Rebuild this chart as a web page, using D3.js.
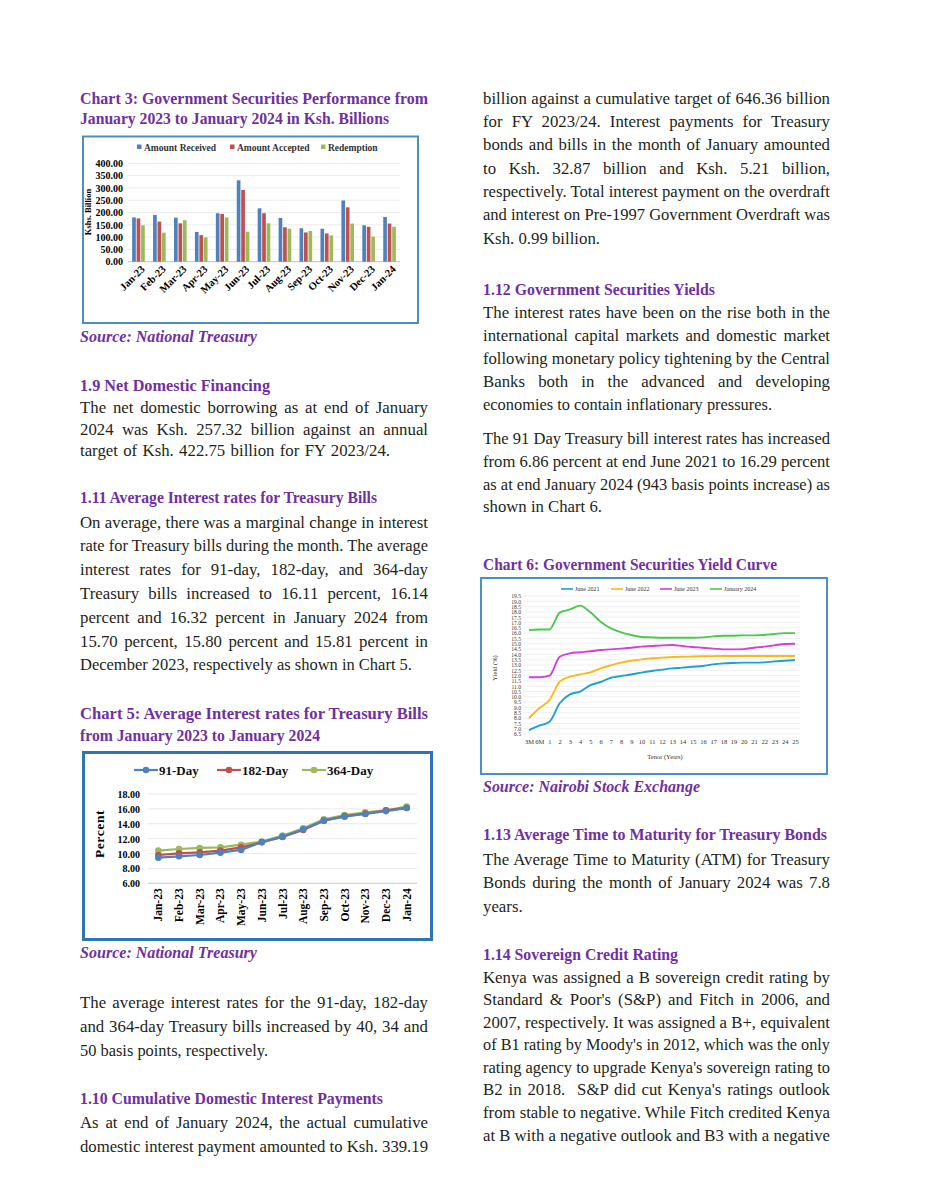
<!DOCTYPE html>
<html><head><meta charset="utf-8">
<script src="https://cdn.jsdelivr.net/npm/d3@7"></script>
<style>body{margin:0;background:#fff;}svg{display:block;}</style>
</head><body>
<svg id="page" width="929" height="1200"></svg>
<script>
// ---------------- DATA ----------------
const months = ["Jan-23","Feb-23","Mar-23","Apr-23","May-23","Jun-23","Jul-23","Aug-23","Sep-23","Oct-23","Nov-23","Dec-23","Jan-24"];
// Chart 3 (Ksh. Billion)
const amountReceived = [180,190,179,121,197,331,217,178,136,134,249,148,182];
const amountAccepted = [176,163,156,108,194,292,197,140,119,115,221,142,155];
const redemption     = [148,118,169, 99,180,122,156,134,125,107,155,102,142];
const chart3Series = ["Amount Received","Amount Accepted","Redemption"];
const chart3Ticks = [0,50,100,150,200,250,300,350,400];
// Chart 5 (percent)
const rate91  = [9.45,9.63,9.80,10.12,10.48,11.55,12.27,13.25,14.42,14.95,15.31,15.70,16.11];
const rate182 = [9.80,10.03,10.16,10.39,10.83,11.50,12.22,13.16,14.42,15.04,15.36,15.80,16.14];
const rate364 = [10.39,10.61,10.75,10.83,11.19,11.60,12.40,13.39,14.60,15.18,15.54,15.81,16.32];
const chart5Series = ["91-Day","182-Day","364-Day"];
const chart5Ticks = [6,8,10,12,14,16,18];
// Chart 6 (yield %, by tenor)
const tenors = ["3M","6M","1","2","3","4","5","6","7","8","9","10","11","12","13","14","15","16","17","18","19","20","21","22","23","24","25"];
const june2021 = [6.86,7.28,7.66,9.40,10.24,10.50,11.10,11.40,11.80,11.96,12.10,12.28,12.43,12.56,12.68,12.75,12.84,12.90,13.06,13.15,13.19,13.22,13.22,13.25,13.34,13.40,13.47];
const june2022 = [7.98,8.92,9.70,11.43,11.90,12.12,12.30,12.68,12.97,13.22,13.40,13.53,13.63,13.69,13.75,13.78,13.80,13.82,13.84,13.85,13.85,13.85,13.85,13.85,13.85,13.85,13.85];
const june2023 = [11.84,11.84,12.00,13.78,14.10,14.20,14.29,14.41,14.47,14.54,14.63,14.73,14.79,14.85,14.88,14.79,14.70,14.63,14.54,14.47,14.47,14.50,14.63,14.73,14.85,14.98,15.00];
const jan2024  = [16.29,16.35,16.35,17.93,18.24,18.59,17.96,17.08,16.45,16.08,15.83,15.64,15.60,15.57,15.57,15.57,15.57,15.60,15.70,15.76,15.76,15.79,15.79,15.83,15.92,16.00,16.00];
const chart6Series = ["June 2021","June 2022","June 2023","January 2024"];
const chart6Ticks = d3.range(6.5, 19.51, 0.5);

// ---------------- PAGE ----------------
const svg = d3.select("#page");
svg.append("rect").attr("width",929).attr("height",1200).attr("fill","#fff");
const PURPLE = "#7030a0";
const SERIF = "'Liberation Serif','Times New Roman',serif";

function addLine(x, it) {
  const t = svg.append("text").attr("x", x).attr("y", it.y).text(it.t)
    .attr("font-family", SERIF).attr("xml:space","preserve");
  if (it.k === "h" || it.k === "s") {
    t.attr("fill", PURPLE).attr("font-size", 16.5)
     .attr("font-weight", "bold").attr("font-style", it.k === "s" ? "italic" : null);
    if (it.w) t.attr("textLength", it.w).attr("lengthAdjust", "spacingAndGlyphs");
  } else {
    t.attr("fill", "#231f20").attr("font-size", 16.8);
    const nat = t.node().getComputedTextLength();
    const n = (it.t.match(/ /g) || []).length;
    if (it.w) {
      if (nat > it.w || n === 0) t.attr("textLength", it.w).attr("lengthAdjust", "spacingAndGlyphs");
      else t.attr("word-spacing", (it.w - nat) / n);
    }
  }
}
const leftLines = [
  {t:"Chart 3: Government Securities Performance from", y:104, w:348, k:"h"},
  {t:"January 2023 to January 2024 in Ksh. Billions", y:123.5, w:309, k:"h"},
  {t:"Source: National Treasury", y:341.5, w:177, k:"s"},
  {t:"1.9 Net Domestic Financing", y:391, w:190, k:"h"},
  {t:"The net domestic borrowing as at end of January", y:413, w:348},
  {t:"2024 was Ksh. 257.32 billion against an annual", y:435, w:348},
  {t:"target of Ksh. 422.75 billion for FY 2023/24.", y:455.5, w:310},
  {t:"1.11 Average Interest rates for Treasury Bills", y:502.5, w:297, k:"h"},
  {t:"On average, there was a marginal change in interest", y:527.5, w:348},
  {t:"rate for Treasury bills during the month. The average", y:551, w:348},
  {t:"interest rates for 91-day, 182-day, and 364-day", y:575, w:348},
  {t:"Treasury bills increased to 16.11 percent, 16.14", y:599, w:348},
  {t:"percent and 16.32 percent in January 2024 from", y:622.5, w:348},
  {t:"15.70 percent, 15.80 percent and 15.81 percent in", y:646.5, w:348},
  {t:"December 2023, respectively as shown in Chart 5.", y:670, w:332},
  {t:"Chart 5: Average Interest rates for Treasury Bills", y:719, w:348, k:"h"},
  {t:"from January 2023 to January 2024", y:741, w:240, k:"h"},
  {t:"Source: National Treasury", y:958, w:177, k:"s"},
  {t:"The average interest rates for the 91-day, 182-day", y:1008, w:348},
  {t:"and 364-day Treasury bills increased by 40, 34 and", y:1032, w:348},
  {t:"50 basis points, respectively.", y:1056, w:188},
  {t:"1.10 Cumulative Domestic Interest Payments", y:1104, w:303, k:"h"},
  {t:"As at end of January 2024, the actual cumulative", y:1128, w:348},
  {t:"domestic interest payment amounted to Ksh. 339.19", y:1152, w:348}
];
const rightLines = [
  {t:"billion against a cumulative target of 646.36 billion", y:104, w:347},
  {t:"for FY 2023/24. Interest payments for Treasury", y:126.5, w:347},
  {t:"bonds and bills in the month of January amounted", y:150, w:347},
  {t:"to Ksh. 32.87 billion and Ksh. 5.21 billion,", y:173.5, w:347},
  {t:"respectively. Total interest payment on the overdraft", y:197, w:347},
  {t:"and interest on Pre-1997 Government Overdraft was", y:220, w:347},
  {t:"Ksh. 0.99 billion.", y:243.5, w:117},
  {t:"1.12 Government Securities Yields", y:295, w:232, k:"h"},
  {t:"The interest rates have been on the rise both in the", y:317.5, w:347},
  {t:"international capital markets and domestic market", y:341, w:347},
  {t:"following monetary policy tightening by the Central", y:364, w:347},
  {t:"Banks both in the advanced and developing", y:387, w:347},
  {t:"economies to contain inflationary pressures.", y:409.5, w:289},
  {t:"The 91 Day Treasury bill interest rates has increased", y:443.5, w:347},
  {t:"from 6.86 percent at end June 2021 to 16.29 percent", y:467, w:347},
  {t:"as at end January 2024 (943 basis points increase) as", y:489.5, w:347},
  {t:"shown in Chart 6.", y:512, w:119},
  {t:"Chart 6: Government Securities Yield Curve", y:570, w:294, k:"h"},
  {t:"Source: Nairobi Stock Exchange", y:791.5, w:217, k:"s"},
  {t:"1.13 Average Time to Maturity for Treasury Bonds", y:840, w:344, k:"h"},
  {t:"The Average Time to Maturity (ATM) for Treasury", y:864.5, w:347},
  {t:"Bonds during the month of January 2024 was 7.8", y:887.5, w:347},
  {t:"years.", y:911.5},
  {t:"1.14 Sovereign Credit Rating", y:959.5, w:195, k:"h"},
  {t:"Kenya was assigned a B sovereign credit rating by", y:983, w:347},
  {t:"Standard & Poor's (S&P) and Fitch in 2006, and", y:1005, w:347},
  {t:"2007, respectively. It was assigned a B+, equivalent", y:1028, w:347},
  {t:"of B1 rating by Moody's in 2012, which was the only", y:1050, w:347},
  {t:"rating agency to upgrade Kenya's sovereign rating to", y:1073, w:347},
  {t:"B2 in 2018.  S&P did cut Kenya's ratings outlook", y:1095, w:347},
  {t:"from stable to negative. While Fitch credited Kenya", y:1118, w:347},
  {t:"at B with a negative outlook and B3 with a negative", y:1140.5, w:347}
];
leftLines.forEach(it => addLine(80, it));
rightLines.forEach(it => addLine(483, it));

function styleAxis(g, size) {
  g.attr("font-family", SERIF).attr("font-size", size).attr("font-weight","bold");
  g.select(".domain").remove();
  g.selectAll("text").attr("fill","#000");
}

// ---------------- CHART 3 ----------------
{
  const g = svg.append("g");
  g.append("rect").attr("x",83).attr("y",136.5).attr("width",335).attr("height",186.5)
    .attr("fill","#fff").attr("stroke","#4a8ec2").attr("stroke-width",2);
  const y = d3.scaleLinear().domain([0,400]).range([261.7,163.3]);
  const x = d3.scaleBand().domain(months).range([128,400]).paddingInner(0.32).paddingOuter(0.16);
  const xs = d3.scaleBand().domain(chart3Series).range([0,x.bandwidth()]).padding(0.18);
  const colors = d3.scaleOrdinal().domain(chart3Series).range(["#4f81bd","#c0504d","#9bbb59"]);
  g.append("g").selectAll("line").data(chart3Ticks.slice(1)).join("line")
    .attr("x1",128).attr("x2",400).attr("y1",d=>y(d)).attr("y2",d=>y(d))
    .attr("stroke","#e6e6e6").attr("stroke-width",0.8);
  const ay = g.append("g").attr("transform","translate(126,0)")
    .call(d3.axisLeft(y).tickValues(chart3Ticks).tickFormat(d3.format(".2f")).tickSize(0).tickPadding(3));
  styleAxis(ay, 10);
  g.append("line").attr("x1",128).attr("x2",400).attr("y1",y(0)).attr("y2",y(0)).attr("stroke","#bfbfbf");
  const ax = g.append("g").attr("transform",`translate(0,${y(0)})`)
    .call(d3.axisBottom(x).tickSize(0).tickPadding(0));
  styleAxis(ax, 10.5);
  ax.selectAll("text").attr("text-anchor","end").attr("dy",0)
    .attr("transform","translate(7,8) rotate(-45)");
  const vals = [amountReceived, amountAccepted, redemption];
  chart3Series.forEach((s,i) => {
    g.append("g").selectAll("rect").data(months).join("rect")
      .attr("x", m => x(m) + xs(s)).attr("width", xs.bandwidth())
      .attr("y", (m,j) => y(vals[i][j])).attr("height", (m,j) => y(0) - y(vals[i][j]))
      .attr("fill", colors(s));
  });
  g.append("text").attr("transform","translate(91,212) rotate(-90)").attr("text-anchor","middle")
    .attr("font-family",SERIF).attr("font-weight","bold").attr("font-size",8.5).text("Kshs. Billion");
  const legX = [137, 230, 321];
  const leg = g.append("g").selectAll("g").data(chart3Series).join("g")
    .attr("transform",(d,i)=>`translate(${legX[i]},148)`);
  leg.append("rect").attr("x",0).attr("y",-3.5).attr("width",4.5).attr("height",4.5).attr("fill",d=>colors(d));
  leg.append("text").attr("x",7).attr("y",3).attr("font-family",SERIF).attr("font-weight","bold")
    .attr("font-size",9.5).attr("fill","#333").text(d=>d);
}

// ---------------- CHART 5 ----------------
{
  const g = svg.append("g");
  g.append("rect").attr("x",83.5).attr("y",752.5).attr("width",348).attr("height",187)
    .attr("fill","#fff").attr("stroke","#2e75b6").attr("stroke-width",3);
  const y = d3.scaleLinear().domain([6,18]).range([883.3,794]);
  const x = d3.scaleBand().domain(months).range([148,417]);
  const cx = m => x(m) + x.bandwidth()/2;
  const colors = d3.scaleOrdinal().domain(chart5Series).range(["#4f81bd","#c0504d","#9bbb59"]);
  g.append("g").selectAll("line").data(chart5Ticks).join("line")
    .attr("x1",148).attr("x2",417).attr("y1",d=>y(d)).attr("y2",d=>y(d))
    .attr("stroke","#e3e3e3").attr("stroke-width",0.8);
  g.append("line").attr("x1",148).attr("x2",417).attr("y1",y(6)).attr("y2",y(6)).attr("stroke","#d0d0d0");
  const ay = g.append("g").attr("transform","translate(145,0)")
    .call(d3.axisLeft(y).tickValues(chart5Ticks).tickFormat(d3.format(".2f")).tickSize(0).tickPadding(5));
  styleAxis(ay, 10);
  ay.selectAll("text").attr("dy","0.35em");
  const ax = g.append("g").attr("transform",`translate(0,${y(6)})`)
    .call(d3.axisBottom(x).tickSize(0).tickPadding(0));
  styleAxis(ax, 11.5);
  ax.selectAll("text").attr("text-anchor","end").attr("dy",0)
    .attr("transform","translate(4,5) rotate(-90)");
  g.append("text").attr("transform","translate(104,834) rotate(-90)").attr("text-anchor","middle")
    .attr("font-family",SERIF).attr("font-weight","bold").attr("font-size",13.5)
    .attr("letter-spacing",0.6).text("Percent");
  const vals = [rate91, rate182, rate364];
  const line = d3.line().x((d,i)=>cx(months[i])).y(d=>y(d));
  [2,1,0].forEach(i => {
    const s = chart5Series[i];
    g.append("path").attr("d", line(vals[i])).attr("fill","none").attr("stroke",colors(s)).attr("stroke-width",2.2);
    g.append("g").selectAll("circle").data(vals[i]).join("circle")
      .attr("cx",(d,j)=>cx(months[j])).attr("cy",d=>y(d)).attr("r",3.3).attr("fill",colors(s));
  });
  const legX = [134, 217, 302];
  const leg = g.append("g").selectAll("g").data(chart5Series).join("g")
    .attr("transform",(d,i)=>`translate(${legX[i]},770)`);
  leg.append("line").attr("x1",0).attr("x2",24).attr("stroke",d=>colors(d)).attr("stroke-width",2.2);
  leg.append("circle").attr("cx",12).attr("r",3.3).attr("fill",d=>colors(d));
  leg.append("text").attr("x",25).attr("y",4.5).attr("font-family",SERIF).attr("font-weight","bold")
    .attr("font-size",13).attr("fill","#111").text(d=>d);
}

// ---------------- CHART 6 ----------------
{
  const g = svg.append("g");
  g.append("rect").attr("x",481).attr("y",578).attr("width",346).attr("height",196)
    .attr("fill","#fff").attr("stroke","#4a90c0").attr("stroke-width",2);
  const y = d3.scaleLinear().domain([6.5,19.5]).range([734,596]);
  const x = d3.scalePoint().domain(tenors).range([529,795]);
  const colors = d3.scaleOrdinal().domain(chart6Series).range(["#1e9fd6","#fbb919","#d63fd6","#4cc84c"]);
  g.append("g").selectAll("line").data(chart6Ticks).join("line")
    .attr("x1",523).attr("x2",800).attr("y1",d=>y(d)).attr("y2",d=>y(d))
    .attr("stroke","#e4e4e4").attr("stroke-width",0.6);
  const ay = g.append("g").attr("transform","translate(522,0)")
    .call(d3.axisLeft(y).tickValues(chart6Ticks).tickFormat(d3.format(".1f")).tickSize(0).tickPadding(1));
  ay.attr("font-family",SERIF).attr("font-size",5.6);
  ay.select(".domain").remove();
  ay.selectAll("text").attr("fill","#333");
  const ax = g.append("g").attr("transform","translate(0,736)")
    .call(d3.axisBottom(x).tickSize(0).tickPadding(3));
  ax.attr("font-family",SERIF).attr("font-size",6.5);
  ax.select(".domain").remove();
  ax.selectAll("text").attr("fill","#333");
  g.append("text").attr("x",665).attr("y",759).attr("text-anchor","middle")
    .attr("font-family",SERIF).attr("font-size",6.5).attr("fill","#333").text("Tenor (Years)");
  g.append("text").attr("transform","translate(497,668) rotate(-90)").attr("text-anchor","middle")
    .attr("font-family",SERIF).attr("font-size",6.5).attr("fill","#333").text("Yield (%)");
  const vals = [june2021, june2022, june2023, jan2024];
  const line = d3.line().x((d,i)=>x(tenors[i])).y(d=>y(d)).curve(d3.curveMonotoneX);
  chart6Series.forEach((s,i) => {
    g.append("path").attr("d", line(vals[i])).attr("fill","none").attr("stroke",colors(s)).attr("stroke-width",1.9);
  });
  const legX = [561, 611, 660, 710];
  const leg = g.append("g").selectAll("g").data(chart6Series).join("g")
    .attr("transform",(d,i)=>`translate(${legX[i]},589)`);
  leg.append("line").attr("x1",0).attr("x2",12).attr("stroke",d=>colors(d)).attr("stroke-width",1.6);
  leg.append("text").attr("x",14).attr("y",2).attr("font-family",SERIF)
    .attr("font-size",6).attr("fill","#333").text(d=>d);
}
</script>
</body></html>
